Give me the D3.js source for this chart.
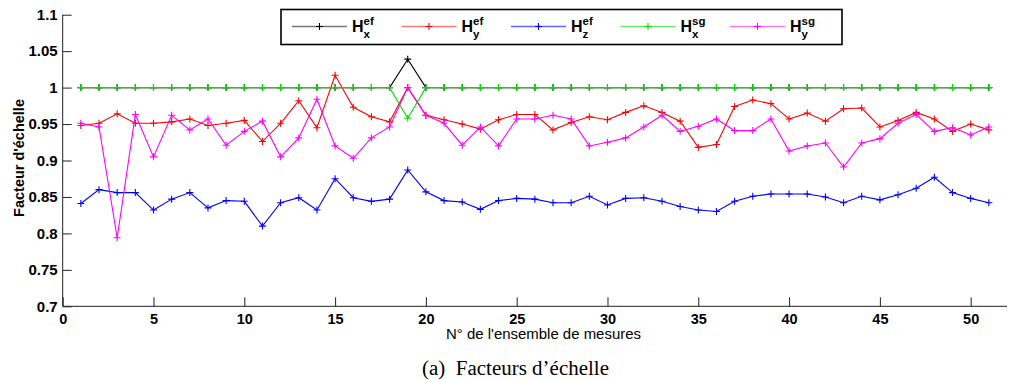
<!DOCTYPE html>
<html><head><meta charset="utf-8">
<script src="https://cdn.jsdelivr.net/npm/d3@7"></script>
<style>
html,body{margin:0;padding:0;background:#fff;}
svg{display:block;}
</style></head>
<body>
<svg id="chart" width="1016" height="380"></svg>
<script>
const xIndex = [1,2,3,4,5,6,7,8,9,10,11,12,13,14,15,16,17,18,19,20,21,22,23,24,25,26,27,28,29,30,31,32,33,34,35,36,37,38,39,40,41,42,43,44,45,46,47,48,49,50,51];
const hxEf = [1,1,1,1,1,1,1,1,1,1,1,1,1,1,1,1,1,1,1.039,1,1,1,1,1,1,1,1,1,1,1,1,1,1,1,1,1,1,1,1,1,1,1,1,1,1,1,1,1,1,1,1];
const hyEf = [0.948,0.951,0.964,0.951,0.951,0.953,0.957,0.948,0.951,0.955,
  0.926,0.951,0.982,0.945,1.017,0.973,0.960,0.953,1.000,0.962,
  0.956,0.950,0.943,0.956,0.963,0.963,0.942,0.952,0.960,0.956,
  0.966,0.975,0.966,0.954,0.918,0.922,0.974,0.983,0.978,0.957,
  0.965,0.954,0.971,0.972,0.946,0.955,0.966,0.957,0.940,0.950,0.942];
const hzEf = [0.841,0.860,0.856,0.856,0.832,0.847,0.856,0.835,0.845,0.844,
  0.810,0.842,0.849,0.832,0.875,0.849,0.844,0.847,0.887,0.857,
  0.845,0.843,0.833,0.845,0.848,0.847,0.842,0.842,0.851,0.839,
  0.848,0.849,0.844,0.837,0.832,0.830,0.844,0.851,0.854,0.854,
  0.854,0.850,0.842,0.851,0.846,0.853,0.862,0.877,0.856,0.848,0.842];
const hxSg = [1,1,1,1,1,1,1,1,1,1,1,1,1,1,1,1,1,1,0.958,1,1,1,1,1,1,1,1,1,1,1,1,1,1,1,1,1,1,1,1,1,1,1,1,1,1,1,1,1,1,1,1];
const hySg = [0.951,0.946,0.794,0.963,0.905,0.962,0.942,0.957,0.921,0.940,
  0.954,0.905,0.931,0.984,0.920,0.903,0.931,0.946,1.000,0.962,
  0.951,0.921,0.946,0.920,0.957,0.957,0.962,0.957,0.920,0.925,
  0.931,0.946,0.962,0.940,0.947,0.957,0.941,0.941,0.957,0.913,
  0.920,0.924,0.891,0.924,0.930,0.951,0.963,0.940,0.945,0.935,0.946];

const seriesNames = ["ef|x","ef|y","ef|z","sg|x","sg|y"];
const seriesColors = ["#000000","#ff0000","#0000ff","#00e000","#ff00ff"];
const legendLineColors = ["#777777","#ff7777","#6666ff","#66ee66","#ff77ff"];
const seriesData = [hxEf, hyEf, hzEf, hxSg, hySg];

const xTicks = [0,5,10,15,20,25,30,35,40,45,50];
const yTicks = [0.7,0.75,0.8,0.85,0.9,0.95,1,1.05,1.1];
const yTickLabels = ["0.7","0.75","0.8","0.85","0.9","0.95","1","1.05","1.1"];

const svg = d3.select("#chart");
const x = d3.scaleLinear().domain([0,52]).range([62.7,1007]);
const y = d3.scaleLinear().domain([0.7,1.1]).range([306.3,14.7]);

const axisColor = "#222";
const sans = "'Liberation Sans',Arial,sans-serif";
// X axis
const gx = svg.append("g").attr("transform",`translate(0,${y(0.7)})`)
  .call(d3.axisBottom(x).tickValues(xTicks).tickSize(-9).tickPadding(6).tickFormat(d3.format("d")));
gx.select(".domain").attr("d",`M${x(0)},0H${x(52)}`).attr("stroke",axisColor);
gx.selectAll(".tick line").attr("stroke",axisColor);
gx.selectAll(".tick text").attr("font-family",sans).attr("font-weight","bold").attr("font-size","14.5px").attr("fill","#000").attr("dy","0.8em");

// Y axis
const gy = svg.append("g").attr("transform",`translate(${x(0)},0)`)
  .call(d3.axisLeft(y).tickValues(yTicks).tickSize(-9).tickPadding(5).tickFormat((d,i)=>yTickLabels[i]));
gy.select(".domain").attr("d",`M0,${y(0.7)}V${y(1.1)}`).attr("stroke",axisColor);
gy.selectAll(".tick line").attr("stroke",axisColor);
gy.selectAll(".tick text").attr("font-family",sans).attr("font-weight","bold").attr("font-size","15px").attr("fill","#000");

// Lines
const line = d3.line().x((d,i)=>x(xIndex[i])).y(d=>y(d));
const ms = 3.5;
seriesData.forEach((data,k)=>{
  svg.append("path").datum(data).attr("d",line).attr("fill","none")
    .attr("stroke",seriesColors[k]).attr("stroke-width",1.1);
  svg.append("g").selectAll("path").data(data).join("path")
    .attr("d",(d,i)=>`M${x(xIndex[i])-ms},${y(d)}h${2*ms}M${x(xIndex[i])},${y(d)-ms}v${2*ms}`)
    .attr("stroke",seriesColors[k]).attr("stroke-width",1.1).attr("fill","none");
});

// Legend
const lg = svg.append("g");
lg.append("rect").attr("x",281).attr("y",9.5).attr("width",561).attr("height",35)
  .attr("fill","#fff").attr("stroke","#000").attr("stroke-width",1.6);
seriesNames.forEach((nm,k)=>{
  const [sup,sub] = nm.split("|");
  const x0 = 292 + k*109.5;
  const ly = 26.5;
  lg.append("line").attr("x1",x0).attr("x2",x0+55).attr("y1",ly).attr("y2",ly)
    .attr("stroke",legendLineColors[k]).attr("stroke-width",1.3);
  lg.append("path").attr("d",`M${x0+27.5-ms},${ly}h${2*ms}M${x0+27.5},${ly-ms}v${2*ms}`)
    .attr("stroke",seriesColors[k]).attr("stroke-width",1.1);
  lg.append("text").attr("x",x0+60).attr("y",32).text("H")
    .attr("font-family",sans).attr("font-weight","bold").attr("font-size","16px");
  lg.append("text").attr("x",x0+71.5).attr("y",24.5).text(sup)
    .attr("font-family",sans).attr("font-weight","bold").attr("font-size","11.5px");
  lg.append("text").attr("x",x0+71.5).attr("y",38).text(sub)
    .attr("font-family",sans).attr("font-weight","bold").attr("font-size","11.5px");
});

// Axis titles
svg.append("text").attr("transform",`translate(23.5,158) rotate(-90)`)
  .attr("text-anchor","middle").text("Facteur d'échelle")
  .attr("font-family",sans).attr("font-weight","bold").attr("font-size","14.5px");
svg.append("text").attr("x",446).attr("y",339)
  .attr("textLength",195).attr("lengthAdjust","spacingAndGlyphs")
  .text("N° de l'ensemble de mesures")
  .attr("font-family",sans).attr("font-size","14px");
svg.append("text").attr("x",422).attr("y",375)
  .attr("textLength",187).attr("lengthAdjust","spacingAndGlyphs")
  .text("(a)  Facteurs d’échelle").style("white-space","pre")
  .attr("font-family","'Liberation Serif','Times New Roman',serif").attr("font-size","20px");
</script>
</body></html>
